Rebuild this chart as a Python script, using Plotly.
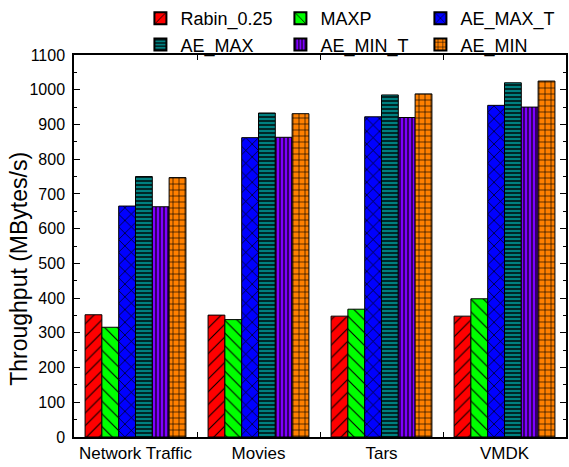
import plotly.graph_objects as go

categories = ["Network Traffic", "Movies", "Tars", "VMDK"]
series_names = ["Rabin_0.25", "MAXP", "AE_MAX_T", "AE_MAX", "AE_MIN_T", "AE_MIN"]
rabin = [352, 351, 348, 348]
maxp = [316, 338, 368, 398]
ae_max_t = [665, 862, 922, 955]
ae_max = [750, 933, 985, 1020]
ae_min_t = [663, 863, 920, 950]
ae_min = [747, 931, 988, 1025]
y_ticks = list(range(0, 1101, 100))

values = [rabin, maxp, ae_max_t, ae_max, ae_min_t, ae_min]
colors = ["#ff0000", "#00ff00", "#0000ff", "#008080", "#7f00ff", "#ff8000"]
shapes = ["/", "\\", "x", "-", "|", "+"]
sizes = [9, 9, 9, 4, 4, 6]
solid = [0.12, 0.12, 0.15, 0.35, 0.3, 0.2]

fig = go.Figure()
for name, vals, c, s, sz, so in zip(series_names, values, colors, shapes, sizes, solid):
    fig.add_trace(go.Bar(
        x=categories, y=vals, name=name,
        marker=dict(color=c, line=dict(color="black", width=1),
                    pattern=dict(shape=s, fgcolor="black", bgcolor=c, size=sz, solidity=so, fillmode="replace")),
    ))

font = "Liberation Sans, Arial, sans-serif"
fig.update_layout(
    width=569, height=467,
    margin=dict(l=74, r=3, t=55, b=30, autoexpand=False),
    paper_bgcolor="white", plot_bgcolor="white",
    barmode="group", bargap=0.18, bargroupgap=0,
    font=dict(family=font, size=16, color="black"),
    legend=dict(orientation="h", x=0.135, xanchor="left", yref="container", y=1.0, yanchor="top",
                entrywidth=95, font=dict(size=18, family=font), bgcolor="rgba(0,0,0,0)",
                itemsizing="constant", tracegroupgap=0),
    showlegend=True,
    annotations=[dict(text="Throughput (MBytes/s)", textangle=-90, xref="paper", yref="paper",
                      x=-0.112, y=0.44, xanchor="center", yanchor="middle", showarrow=False,
                      font=dict(size=23, family=font, color="black"))],
)
fig.update_xaxes(
    showline=True, linecolor="black", linewidth=1.5, mirror="ticks",
    ticks="inside", tickson="boundaries", ticklen=5, tickcolor="black",
    tickfont=dict(size=17, family=font), showgrid=False, automargin=False,
)
fig.update_yaxes(
    range=[0, 1100], tickvals=y_ticks, showline=True, linecolor="black", linewidth=1.5,
    mirror="ticks", ticks="inside", ticklen=6, tickcolor="black", ticklabelstandoff=4,
    minor=dict(ticks="inside", dtick=50, ticklen=3, tickcolor="black", showgrid=False),
    tickfont=dict(size=16, family=font), showgrid=False, zeroline=False, automargin=False,
)

fig.write_html("out.html", config={"displayModeBar": False},
               post_script="document.body.style.margin='0px';")
